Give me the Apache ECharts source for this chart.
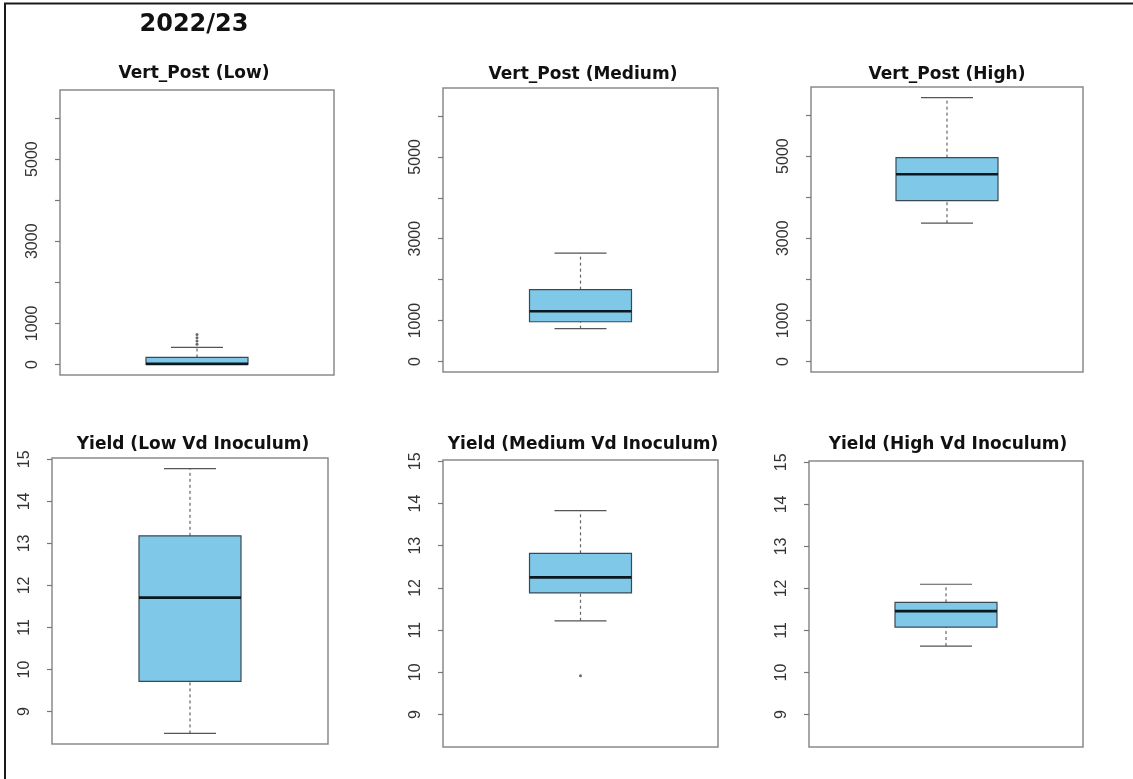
<!DOCTYPE html>
<html><head><meta charset="utf-8">
<script src="https://cdn.jsdelivr.net/npm/echarts@6/dist/echarts.min.js"></script>
<style>html,body{margin:0;padding:0;background:#fff}#c{width:1133px;height:779px}</style>
</head><body><div id="c"></div>
<script>
// ---- data ----
const mainTitle = '2022/23';
const panelTitles = ['Vert_Post (Low)', 'Vert_Post (Medium)', 'Vert_Post (High)',
  'Yield (Low Vd Inoculum)', 'Yield (Medium Vd Inoculum)', 'Yield (High Vd Inoculum)'];
// [lower whisker, Q1, median, Q3, upper whisker]
const vertPostLow = [0, 0, 15, 170, 415];
const vertPostMedium = [801, 971, 1228, 1755, 2646];
const vertPostHigh = [3367, 3917, 4559, 4963, 6423];
const yieldLow = [8.48, 9.72, 11.71, 13.18, 14.78];
const yieldMedium = [11.22, 11.88, 12.25, 12.82, 13.83];
const yieldHigh = [10.63, 11.08, 11.46, 11.67, 12.10];
const vertPostLowOutliers = [490, 570, 650, 730];
const vertPostMediumOutliers = [];
const vertPostHighOutliers = [];
const yieldLowOutliers = [];
const yieldMediumOutliers = [9.92];
const yieldHighOutliers = [];
const vertTicks = [0, 1000, 2000, 3000, 4000, 5000, 6000];
const vertTickLabels = [0, 1000, 3000, 5000];
const yieldTicks = [9, 10, 11, 12, 13, 14, 15];
const yieldTickLabels = [9, 10, 11, 12, 13, 14, 15];
const vertRange = [-257, 6683];
const yieldRange = [8.228, 15.032];

// ---- layout ----
const grids = [
  {left: 60, top: 90, width: 274, height: 285},
  {left: 443, top: 88, width: 275, height: 284},
  {left: 811, top: 87, width: 272, height: 285},
  {left: 52, top: 458, width: 276, height: 286},
  {left: 443, top: 460, width: 275, height: 287},
  {left: 809, top: 461, width: 274, height: 286}
];
const titlePos = [[194, 74], [583, 74.5], [947, 75], [193, 445], [583, 444.5], [948, 445]];

const boxes = [vertPostLow, vertPostMedium, vertPostHigh, yieldLow, yieldMedium, yieldHigh];
const outliers = [vertPostLowOutliers, vertPostMediumOutliers, vertPostHighOutliers,
  yieldLowOutliers, yieldMediumOutliers, yieldHighOutliers];

const FILL = '#80C8E8';
const BOX_HALF = 51, CAP_HALF = 26;

function renderBox(params, api) {
  const x = api.value(0);
  const lo = api.coord([x, api.value(1)]);
  const q1 = api.coord([x, api.value(2)]);
  const med = api.coord([x, api.value(3)]);
  const q3 = api.coord([x, api.value(4)]);
  const hi = api.coord([x, api.value(5)]);
  const cx = lo[0];
  const dash = {stroke: '#666', lineWidth: 1.2, lineDash: [3, 3]};
  const cap = {stroke: '#555', lineWidth: 1.2};
  return {
    type: 'group',
    children: [
      {type: 'line', shape: {x1: cx, y1: q3[1], x2: cx, y2: hi[1]}, style: dash},
      {type: 'line', shape: {x1: cx, y1: lo[1], x2: cx, y2: q1[1]}, style: dash},
      {type: 'line', shape: {x1: cx - CAP_HALF, y1: hi[1], x2: cx + CAP_HALF, y2: hi[1]}, style: cap},
      {type: 'line', shape: {x1: cx - CAP_HALF, y1: lo[1], x2: cx + CAP_HALF, y2: lo[1]}, style: cap},
      {type: 'rect', shape: {x: cx - BOX_HALF, y: q3[1], width: 2 * BOX_HALF, height: q1[1] - q3[1]},
        style: {fill: FILL, stroke: '#3a4a55', lineWidth: 1.2}},
      {type: 'line', shape: {x1: cx - BOX_HALF, y1: med[1], x2: cx + BOX_HALF, y2: med[1]},
        style: {stroke: '#0b1820', lineWidth: 2.6}}
    ]
  };
}

const xAxis = [], yAxis = [], series = [], gridOpts = [];
grids.forEach((g, i) => {
  const isVert = i < 3;
  gridOpts.push(Object.assign({show: true, borderColor: '#8a8a8a', borderWidth: 1.5, backgroundColor: 'transparent'}, g));
  xAxis.push({type: 'value', gridIndex: i, min: 0.5, max: 1.5, show: false});
  const rng = isVert ? vertRange : yieldRange;
  yAxis.push({
    type: 'value', gridIndex: i, min: rng[0], max: rng[1],
    axisLine: {show: false},
    splitLine: {show: false},
    axisTick: {show: true, length: 5, customValues: isVert ? vertTicks : yieldTicks,
      lineStyle: {color: '#777', width: 1.2}},
    axisLabel: {show: true, rotate: 90, margin: 19, customValues: isVert ? vertTickLabels : yieldTickLabels,
      formatter: v => String(v),
      fontFamily: '"Liberation Sans", Arial, sans-serif', fontSize: 16, color: '#333'}
  });
  series.push({
    type: 'custom', xAxisIndex: i, yAxisIndex: i,
    renderItem: renderBox,
    encode: {x: 0, y: [1, 2, 3, 4, 5]},
    data: [[1].concat(boxes[i])],
    silent: true
  });
  if (outliers[i].length) {
    series.push({
      type: 'scatter', xAxisIndex: i, yAxisIndex: i,
      symbol: 'circle', symbolSize: 3,
      itemStyle: {color: '#444'},
      data: outliers[i].map(v => [1, v]),
      silent: true
    });
  }
});

const graphic = [
  {type: 'rect', shape: {x: 5, y: 3.5, width: 1300, height: 900}, style: {fill: 'none', stroke: '#1a1a1a', lineWidth: 2}, silent: true},
  {type: 'text', x: 194, y: 25, style: {text: mainTitle, font: 'bold 24px "DejaVu Sans", sans-serif', fill: '#111', align: 'center', verticalAlign: 'middle'}}
];
panelTitles.forEach((t, i) => {
  graphic.push({type: 'text', x: titlePos[i][0], y: titlePos[i][1],
    style: {text: t, font: 'bold 17px "DejaVu Sans", sans-serif', fill: '#111', align: 'center', verticalAlign: 'middle'}});
});

const chart = echarts.init(document.getElementById('c'), null, {renderer: 'canvas'});
chart.setOption({
  animation: false,
  backgroundColor: '#fff',
  grid: gridOpts,
  xAxis: xAxis,
  yAxis: yAxis,
  series: series,
  graphic: graphic
});
</script></body></html>
